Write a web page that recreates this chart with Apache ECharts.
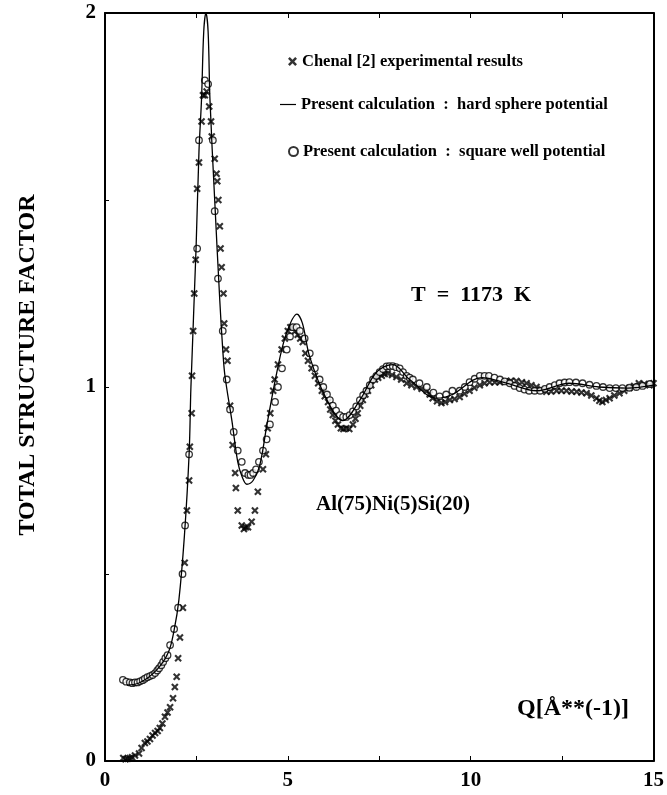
<!DOCTYPE html>
<html>
<head>
<meta charset="utf-8">
<script src="https://cdn.jsdelivr.net/npm/echarts@6/dist/echarts.min.js"></script>
<style>
  html, body { margin: 0; padding: 0; background: #fff; }
  #chart { width: 667px; height: 795px; }
</style>
</head>
<body>
<div id="chart"></div>
<script>
// Chenal [2] experimental results (crosses)
var expQ = [0.5, 0.56, 0.62, 0.68, 0.74, 0.82, 0.93, 1.0, 1.09, 1.16, 1.23, 1.3, 1.37, 1.44, 1.5, 1.57, 1.64, 1.71, 1.78, 1.86,
  1.91, 1.96, 2.0, 2.05, 2.13, 2.18, 2.24, 2.3, 2.32, 2.37, 2.38, 2.41, 2.44, 2.48, 2.52, 2.57, 2.64, 2.68, 2.73, 2.78,
  2.85, 2.9, 2.92, 3.0, 3.05, 3.07, 3.1, 3.14, 3.16, 3.19, 3.24, 3.26, 3.31, 3.35, 3.42, 3.49, 3.56, 3.58, 3.63, 3.74,
  3.8, 3.85, 3.91, 4.01, 4.1, 4.18, 4.32, 4.4, 4.45, 4.52, 4.6, 4.64, 4.73, 4.83, 4.92, 5.0, 5.07, 5.14, 5.2, 5.27,
  5.34, 5.41, 5.48, 5.55, 5.65, 5.74, 5.83, 5.93, 6.01, 6.1, 6.16, 6.23, 6.3, 6.37, 6.45, 6.52, 6.6, 6.68, 6.78, 6.85,
  6.91, 6.98, 7.05, 7.12, 7.19, 7.28, 7.38, 7.47, 7.57, 7.65, 7.73, 7.85, 7.97, 8.1, 8.25, 8.38, 8.52, 8.66, 8.8, 8.88,
  8.96, 9.08, 9.2, 9.3, 9.43, 9.56, 9.7, 9.83, 9.97, 10.1, 10.25, 10.38, 10.52, 10.66, 10.8, 10.95, 11.1, 11.25, 11.4, 11.53,
  11.66, 11.8, 11.93, 12.07, 12.2, 12.35, 12.48, 12.62, 12.76, 12.9, 13.03, 13.17, 13.3, 13.44, 13.52, 13.6, 13.7, 13.8, 13.93, 14.07,
  14.2, 14.34, 14.47, 14.6, 14.75, 14.89, 15.0];
var expS = [0.008, 0.005, 0.006, 0.008, 0.01, 0.015, 0.02, 0.035, 0.048, 0.052, 0.059, 0.068, 0.075, 0.08, 0.088, 0.1, 0.118, 0.13, 0.144, 0.168,
  0.198, 0.225, 0.275, 0.33, 0.41, 0.53, 0.67, 0.75, 0.84, 0.93, 1.03, 1.15, 1.25, 1.34, 1.53, 1.6, 1.71, 1.78, 1.78, 1.79,
  1.75, 1.71, 1.67, 1.61, 1.57, 1.55, 1.5, 1.43, 1.37, 1.32, 1.25, 1.17, 1.1, 1.07, 0.95, 0.845, 0.77, 0.73, 0.67, 0.63,
  0.62, 0.625, 0.625, 0.64, 0.67, 0.72, 0.78, 0.82, 0.89, 0.93, 0.99, 1.02, 1.06, 1.1, 1.13, 1.15, 1.16, 1.16, 1.15, 1.14,
  1.13, 1.12, 1.09, 1.07, 1.05, 1.03, 1.01, 0.99, 0.975, 0.96, 0.94, 0.925, 0.91, 0.9, 0.89, 0.888, 0.89, 0.888, 0.9, 0.915,
  0.93, 0.95, 0.965, 0.98, 0.99, 1.005, 1.02, 1.025, 1.03, 1.035, 1.037, 1.032, 1.027, 1.02, 1.01, 1.005, 1.0, 0.995, 0.99, 0.98,
  0.97, 0.962, 0.957, 0.96, 0.965, 0.968, 0.973, 0.982, 0.99, 0.998, 1.005, 1.01, 1.013, 1.013, 1.013, 1.015, 1.017, 1.016, 1.013, 1.01,
  1.005, 1.0, 0.993, 0.987, 0.988, 0.99, 0.99, 0.99, 0.988, 0.987, 0.985, 0.983, 0.977, 0.97, 0.963, 0.96, 0.965, 0.97, 0.977, 0.983,
  0.99, 0.997, 1.003, 1.01, 1.008, 1.005, 1.01];

// Present calculation : hard sphere potential (line)
var hsQ = [0.6, 0.96, 1.41, 1.73, 1.89, 2.02, 2.17, 2.3, 2.35, 2.49, 2.57, 2.64, 2.7, 2.76, 2.82, 2.87, 3.0, 3.14, 3.22, 3.28,
  3.47, 3.63, 3.75, 3.88, 4.05, 4.23, 4.43, 4.7, 4.95, 5.25, 5.4, 5.6, 6.07, 6.5, 6.97, 7.43, 7.87, 8.33, 9.07, 9.5,
  10.3, 11.0, 11.8, 12.7, 13.5, 14.3, 15.0];
var hsS = [0.203, 0.21, 0.243, 0.29, 0.35, 0.43, 0.6, 0.82, 1.0, 1.37, 1.63, 1.77, 1.95, 2.0, 1.95, 1.77, 1.5, 1.23, 1.1, 1.03,
  0.91, 0.8, 0.76, 0.74, 0.75, 0.79, 0.9, 1.04, 1.14, 1.195, 1.17, 1.08, 0.965, 0.91, 0.965, 1.04, 1.06, 1.02, 0.97, 0.98,
  1.025, 1.01, 0.99, 1.01, 1.0, 0.997, 1.005];

// Present calculation : square well potential (circles)
var swQ = [0.49, 0.58, 0.68, 0.75, 0.82, 0.89, 0.96, 1.03, 1.09, 1.16, 1.23, 1.3, 1.37, 1.43, 1.48, 1.54, 1.59, 1.65, 1.71, 1.78,
  1.89, 2.0, 2.12, 2.19, 2.3, 2.52, 2.57, 2.73, 2.82, 2.95, 3.0, 3.09, 3.22, 3.33, 3.42, 3.52, 3.63, 3.74, 3.83, 3.92,
  3.98, 4.05, 4.13, 4.21, 4.32, 4.42, 4.51, 4.65, 4.73, 4.84, 4.97, 5.06, 5.14, 5.24, 5.33, 5.46, 5.6, 5.74, 5.87, 5.97,
  6.07, 6.15, 6.23, 6.32, 6.42, 6.51, 6.6, 6.69, 6.78, 6.87, 6.97, 7.06, 7.15, 7.24, 7.33, 7.42, 7.51, 7.6, 7.7, 7.78,
  7.87, 7.96, 8.06, 8.15, 8.25, 8.33, 8.42, 8.6, 8.8, 8.98, 9.15, 9.33, 9.5, 9.7, 9.84, 9.97, 10.11, 10.25, 10.38, 10.5,
  10.65, 10.8, 10.93, 11.07, 11.2, 11.34, 11.47, 11.6, 11.75, 11.9, 12.03, 12.16, 12.3, 12.43, 12.57, 12.7, 12.88, 13.06, 13.25, 13.44,
  13.62, 13.8, 13.97, 14.15, 14.34, 14.53, 14.7, 14.9];
var swS = [0.217, 0.212, 0.21, 0.208, 0.21, 0.21, 0.213, 0.216, 0.22, 0.224, 0.227, 0.23, 0.235, 0.242, 0.248, 0.256, 0.265, 0.275, 0.283, 0.31,
  0.353, 0.41, 0.5, 0.63, 0.82, 1.37, 1.66, 1.82, 1.81, 1.66, 1.47, 1.29, 1.15, 1.02, 0.94, 0.88, 0.83, 0.8, 0.77, 0.765,
  0.765, 0.77, 0.78, 0.8, 0.83, 0.86, 0.9, 0.96, 1.0, 1.05, 1.1, 1.135, 1.16, 1.16, 1.15, 1.13, 1.09, 1.05, 1.02, 1.0,
  0.98, 0.965, 0.95, 0.937, 0.925, 0.92, 0.92, 0.925, 0.935, 0.948, 0.965, 0.978, 0.99, 1.005, 1.02, 1.03, 1.04, 1.048, 1.055, 1.056,
  1.056, 1.053, 1.05, 1.04, 1.03, 1.025, 1.02, 1.01, 1.0, 0.985, 0.975, 0.98, 0.99, 0.99, 1.0, 1.013, 1.022, 1.03, 1.03, 1.03,
  1.025, 1.02, 1.015, 1.01, 1.003, 0.997, 0.993, 0.99, 0.99, 0.99, 0.995, 1.0, 1.005, 1.01, 1.012, 1.013, 1.012, 1.01, 1.006, 1.003,
  1.0, 0.997, 0.997, 0.997, 0.998, 1.0, 1.003, 1.008];

var xTicks = [0, 5, 10, 15];
var yTicks = [0, 1, 2];

function zip(a, b) {
  var out = [];
  for (var i = 0; i < a.length; i++) out.push([a[i], b[i]]);
  return out;
}

var serif = 'Liberation Serif';
var crossPath = 'path://M0,2L2,0L5,3L8,0L10,2L7,5L10,8L8,10L5,7L2,10L0,8L3,5Z';
var dashPath = 'path://M0,4.4L16,4.4L16,5.6L0,5.6Z';
var nameExp = 'Chenal [2] experimental results';
var nameHs = 'Present calculation  :  hard sphere potential';
var nameSw = 'Present calculation  :  square well potential';

var chart = echarts.init(document.getElementById('chart'));

var legendText = { fontFamily: serif, fontWeight: 'bold', fontSize: 16.5, color: '#000' };

chart.setOption({
  animation: false,
  backgroundColor: '#fff',
  grid: { left: 105, right: 13, top: 13, bottom: 34, show: false },
  legend: [
    { data: [nameExp], left: 283, top: 48, itemWidth: 9, itemHeight: 9, itemGap: 0, textStyle: legendText, selectedMode: false },
    { data: [{ name: nameHs, icon: dashPath }], left: 275, top: 91, itemWidth: 16, itemHeight: 10, itemGap: 0, textStyle: legendText, selectedMode: false },
    { data: [nameSw], left: 283, top: 138, itemWidth: 9, itemHeight: 9, itemGap: 0, textStyle: legendText, selectedMode: false }
  ],
  xAxis: [
    {
      type: 'value', min: 0, max: 15, interval: 2.5,
      axisLine: { onZero: false, lineStyle: { color: '#000', width: 2 } },
      axisTick: { inside: true, length: 5, lineStyle: { color: '#000', width: 1 } },
      splitLine: { show: false },
      axisLabel: {
        margin: 9, color: '#000', fontFamily: serif, fontWeight: 'bold', fontSize: 21,
        formatter: function (v) { return xTicks.indexOf(v) >= 0 ? String(v) : ''; }
      }
    },
    {
      type: 'value', min: 0, max: 15, interval: 2.5, position: 'top',
      axisLine: { show: true, onZero: false, lineStyle: { color: '#000', width: 2 } },
      axisTick: { inside: true, length: 5, lineStyle: { color: '#000', width: 1 } },
      axisLabel: { show: false }, splitLine: { show: false }
    }
  ],
  yAxis: [
    {
      type: 'value', min: 0, max: 2, interval: 0.5,
      axisLine: { show: true, onZero: false, lineStyle: { color: '#000', width: 2 } },
      axisTick: { show: true, inside: true, length: 4, lineStyle: { color: '#000', width: 1 } },
      splitLine: { show: false },
      axisLabel: {
        margin: 9, color: '#000', fontFamily: serif, fontWeight: 'bold', fontSize: 21,
        formatter: function (v) { return yTicks.indexOf(v) >= 0 ? String(v) : ''; }
      }
    },
    {
      type: 'value', min: 0, max: 2, interval: 0.5, position: 'right',
      axisLine: { show: true, onZero: false, lineStyle: { color: '#000', width: 2 } },
      axisTick: { show: false }, axisLabel: { show: false }, splitLine: { show: false }
    }
  ],
  graphic: [
    { type: 'text', x: 28, y: 365, rotation: Math.PI / 2,
      style: { text: 'TOTAL STRUCTURE FACTOR', fontFamily: serif, fontWeight: 'bold', fontSize: 24, fill: '#000',
        align: 'center', verticalAlign: 'middle' } },
    { type: 'text', left: 411, top: 284,
      style: { text: 'T  =  1173  K', fontFamily: serif, fontWeight: 'bold', fontSize: 22, fill: '#000' } },
    { type: 'text', left: 316, top: 494,
      style: { text: 'Al(75)Ni(5)Si(20)', fontFamily: serif, fontWeight: 'bold', fontSize: 21, fill: '#000' } },
    { type: 'text', left: 517, top: 697,
      style: { text: 'Q[Å**(-1)]', fontFamily: serif, fontWeight: 'bold', fontSize: 24, fill: '#000' } }
  ],
  series: [
    {
      name: nameExp, type: 'scatter', data: zip(expQ, expS),
      symbol: crossPath, symbolSize: 7.5,
      itemStyle: { color: '#000' }
    },
    {
      name: nameHs, type: 'line', data: zip(hsQ, hsS),
      symbol: 'none', smooth: 0.35, clip: true,
      lineStyle: { color: '#000', width: 1.3 },
      itemStyle: { color: '#000' }
    },
    {
      name: nameSw, type: 'scatter', data: zip(swQ, swS),
      symbol: 'circle', symbolSize: 6.5,
      itemStyle: { color: '#fff', borderColor: '#000', borderWidth: 1.3 }
    }
  ]
});
</script>
</body>
</html>
